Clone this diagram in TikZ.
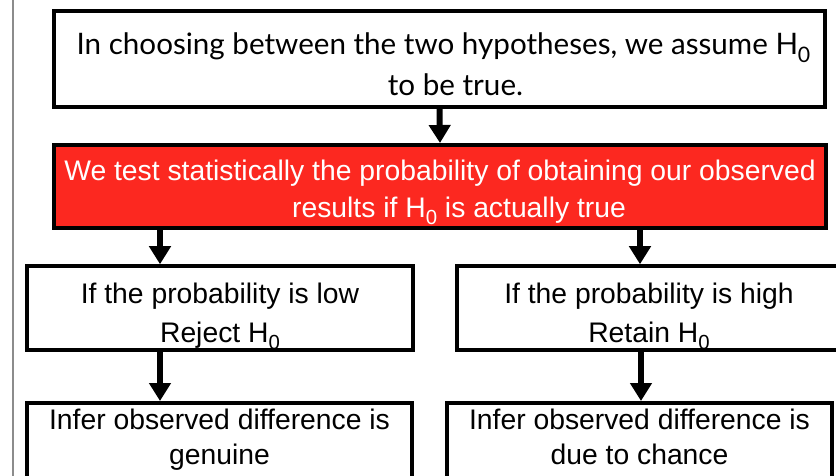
\documentclass[tikz,border=0pt]{standalone}
\usepackage{fontspec}
\setmainfont{Liberation Sans}
\newfontfamily\gillish{Lato}
\usetikzlibrary{arrows.meta,calc}
\definecolor{boxred}{RGB}{252,40,32}
\definecolor{edgegrey}{RGB}{140,140,140}
\newcommand\lowzero{\raisebox{-0.26em}{\fontsize{0.72em}{0.72em}\selectfont 0}}
\tikzset{
  box/.style={draw=black, line width=4pt, fill=white, align=center, inner sep=0pt},
  redbox/.style={box, fill=boxred, text=white},
  arr/.style={line width=6pt, -{Triangle[width=21pt,length=18pt]}},
  mainfont/.style={font=\fontsize{28.3pt}{39pt}\selectfont},
}
\begin{document}
\begin{tikzpicture}[x=1pt,y=-1pt]
\useasboundingbox (0,0) rectangle (836,475);
\clip (0,0) rectangle (836,475);
\draw[edgegrey, line width=1.5pt] (13,-5) -- (13,480);
% top box
\node[box, minimum width=771pt, minimum height=96pt,
      font=\gillish\fontsize{29.6pt}{41pt}\selectfont] (top) at (439.5,59)
  {\rule{0pt}{33pt}\hspace{8pt}In choosing between the two hypotheses, we assume H\lowzero\\\hspace{32pt}to be true.};
% red box
\node[redbox, minimum width=772pt, minimum height=83pt,
      font=\fontsize{28.3pt}{37pt}\selectfont] (red) at (440,186.5)
  {\rule{0pt}{32pt}We test statistically the probability of obtaining our observed\\\hspace{38pt}results if H\lowzero{} is actually true};
% middle boxes
\node[box, mainfont, minimum width=386pt, minimum height=82pt] (ml) at (220,308)
  {\rule{0pt}{37pt}If the probability is low\\Reject H\lowzero};
\node[box, mainfont, minimum width=384pt, minimum height=82pt] (mr) at (649,308)
  {\rule{0pt}{37pt}If the probability is high\\Retain H\lowzero};
% bottom boxes
\node[box, font=\fontsize{28.3pt}{35pt}\selectfont, minimum width=385pt, anchor=north,
      inner ysep=6pt, text depth=60pt] (bl) at (219.5,401)
  {Infer observed difference is\\genuine};
\node[box, font=\fontsize{28.3pt}{35pt}\selectfont, minimum width=385pt, anchor=north,
      inner ysep=6pt, text depth=60pt] (br) at (639.5,401)
  {Infer observed difference is\\due to chance};
% connectors
\draw[arr] (top.south) -- (red.north);
\draw[arr] ([xshift=-60pt]ml.north |- red.south) -- ([xshift=-60pt]ml.north);
\draw[arr] ([xshift=-9pt]mr.north |- red.south) -- ([xshift=-9pt]mr.north);
\draw[arr] ([xshift=-60pt]ml.south) -- ([xshift=-60pt]ml.south |- bl.north);
\draw[arr] ([xshift=-8pt]mr.south) -- ([xshift=-8pt]mr.south |- br.north);
\end{tikzpicture}
\end{document}
